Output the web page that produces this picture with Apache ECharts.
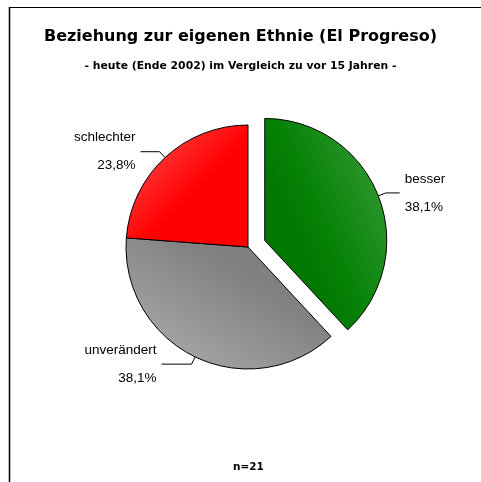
<!DOCTYPE html>
<html>
<head>
<meta charset="utf-8">
<script src="https://cdn.jsdelivr.net/npm/echarts@6/dist/echarts.min.js"></script>
<style>
  html, body { margin: 0; padding: 0; background: #fff; }
  #chart { width: 481px; height: 482px; }
</style>
</head>
<body>
<div id="chart"></div>
<script>
// Antworten (n=21)
const categories = ["besser", "unverändert", "schlechter"];
const counts = [8, 8, 5];
const sampleLabel = "n=21";

const fills = [
  // gruen, schraffiert zum Rand hin heller
  new echarts.graphic.LinearGradient(0, 0.25, 1, 0, [
    { offset: 0, color: "#007800" },
    { offset: 0.25, color: "#068206" },
    { offset: 1, color: "#3f9f3f" }
  ]),
  // grau
  new echarts.graphic.LinearGradient(0.75, 0, 0.35, 1, [
    { offset: 0, color: "#7e7e7e" },
    { offset: 0.35, color: "#828282" },
    { offset: 1, color: "#a4a4a4" }
  ]),
  // rot
  new echarts.graphic.LinearGradient(0, 0, 0.55, 0.55, [
    { offset: 0, color: "#ff5a5a" },
    { offset: 1, color: "#ff0000" }
  ])
];

const titleFont = "'DejaVu Sans', sans-serif";
const font = "'Liberation Sans', Arial, sans-serif";

const chart = echarts.init(document.getElementById("chart"));
chart.setOption({
  backgroundColor: "#fff",
  animation: false,
  title: [
    {
      text: "Beziehung zur eigenen Ethnie (El Progreso)",
      left: "center",
      top: 24,
      textStyle: { fontFamily: titleFont, fontSize: 16, fontWeight: "bold", color: "#000" }
    },
    {
      text: "- heute (Ende 2002) im Vergleich zu vor 15 Jahren -",
      left: "center",
      top: 56,
      textStyle: { fontFamily: titleFont, fontSize: 10.8, fontWeight: "bold", color: "#000" }
    },
    {
      text: sampleLabel,
      left: 228,
      top: 457,
      textStyle: { fontFamily: titleFont, fontSize: 10.5, fontWeight: "bold", color: "#000" }
    }
  ],
  graphic: [
    // Rahmen oben und links
    { type: "line", shape: { x1: 9, y1: 7.5, x2: 481, y2: 7.5 }, style: { stroke: "#000", lineWidth: 1 } },
    { type: "line", shape: { x1: 9.5, y1: 7, x2: 9.5, y2: 482 }, style: { stroke: "#000", lineWidth: 1.5 } }
  ],
  series: [
    {
      type: "pie",
      center: [248, 247],
      radius: 122,
      startAngle: 90,
      clockwise: true,
      selectedMode: "single",
      selectedOffset: 18,
      percentPrecision: 1,
      emphasis: { disabled: true },
      itemStyle: { borderColor: "#000", borderWidth: 1 },
      label: {
        position: "outside",
        fontFamily: font,
        fontSize: 13.5,
        color: "#000",
        lineHeight: 14,
        formatter: p => p.name + "\n\n" + p.percent.toFixed(1).replace(".", ",") + "%"
      },
      labelLine: {
        length: 8,
        length2: 14,
        lineStyle: { color: "#000", width: 1 }
      },
      data: categories.map((name, i) => ({
        name: name,
        value: counts[i],
        selected: i === 0,
        itemStyle: { color: fills[i] },
        label: { align: i === 0 ? "left" : "right" },
        labelLine: { length2: [14, 30, 19][i] }
      }))
    }
  ]
});
</script>
</body>
</html>
